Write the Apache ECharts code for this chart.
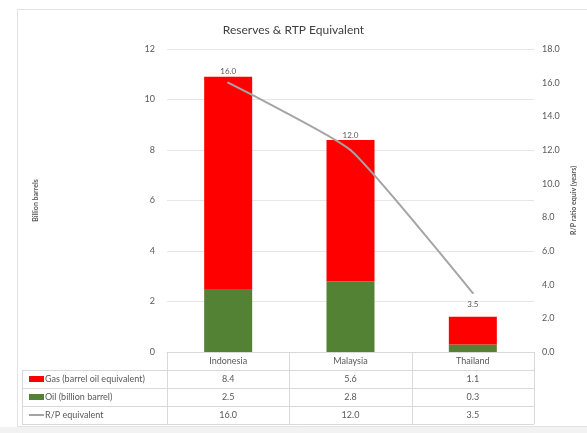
<!DOCTYPE html>
<html>
<head>
<meta charset="utf-8">
<script src="https://cdn.jsdelivr.net/npm/echarts@6/dist/echarts.min.js"></script>
<style>
  html, body { margin: 0; padding: 0; background: #ffffff; }
  #chart { width: 587px; height: 433px; }
</style>
</head>
<body>
<div id="chart"></div>
<script>
// Reserves by country (billion barrels) and reserves-to-production ratio (years)
const countries = ['Indonesia', 'Malaysia', 'Thailand'];
const gasBoe = [8.4, 5.6, 1.1];
const oilBbl = [2.5, 2.8, 0.3];
const rpYears = [16.0, 12.0, 3.5];
const leftTicks = [0, 2, 4, 6, 8, 10, 12];
const rightTicks = [0, 2, 4, 6, 8, 10, 12, 14, 16, 18];

const seriesNames = ['Gas (barrel oil equivalent)', 'Oil (billion barrel)', 'R/P equivalent'];
const tableRows = [gasBoe, oilBbl, rpYears];

const FONT = 'Lato';
const TXT = '#595959';
const GAS = '#ff0000';
const OIL = '#548235';
const LINE = '#a5a5a5';
const GRID_LINE = '#e6e6e6';
const TABLE_LINE = '#d9d9d9';

const chart = echarts.init(document.getElementById('chart'), null, { renderer: 'canvas' });

// per-point label placement for the R/P line
const rpLabelPos = ['top', 'top', 'bottom'];
const rpLabelGap = [6, 10, 6];

chart.setOption({
  animation: false,
  backgroundColor: 'transparent',
  textStyle: { fontFamily: FONT },
  title: {
    text: 'Reserves & RTP Equivalent',
    left: 'center',
    top: 19,
    textStyle: { fontFamily: FONT, fontSize: 12, fontWeight: 'normal', color: '#404040' }
  },
  grid: { left: 167, right: 53, top: 49, bottom: 81, containLabel: false },
  xAxis: {
    type: 'category',
    data: countries,
    axisLine: { show: true, lineStyle: { color: TABLE_LINE } },
    axisTick: { show: false },
    axisLabel: { color: TXT, fontSize: 9, fontFamily: FONT, margin: 5 }
  },
  yAxis: [
    {
      type: 'value', min: 0, max: leftTicks[leftTicks.length - 1], interval: 2,
      name: 'Billion barrels', nameLocation: 'middle', nameGap: 128, nameRotate: 90,
      nameTextStyle: { color: TXT, fontSize: 7, fontWeight: 'bold', fontFamily: FONT },
      axisLine: { show: false }, axisTick: { show: false },
      axisLabel: { color: TXT, fontSize: 9, fontFamily: FONT, margin: 12 },
      splitLine: { lineStyle: { color: GRID_LINE } }
    },
    {
      type: 'value', min: 0, max: rightTicks[rightTicks.length - 1], interval: 2,
      name: 'R/P ratio equiv (years)', nameLocation: 'middle', nameGap: 36, nameRotate: 90,
      nameTextStyle: { color: TXT, fontSize: 7, fontWeight: 'bold', fontFamily: FONT },
      axisLine: { show: false }, axisTick: { show: false },
      axisLabel: { color: TXT, fontSize: 9, fontFamily: FONT, margin: 8,
        formatter: v => v.toFixed(1) },
      splitLine: { show: false }
    }
  ],
  series: [
    {
      name: seriesNames[1], type: 'bar', stack: 'res', barWidth: 48,
      itemStyle: { color: OIL }, data: oilBbl
    },
    {
      name: seriesNames[0], type: 'bar', stack: 'res', barWidth: 48,
      itemStyle: { color: GAS }, data: gasBoe
    },
    {
      name: seriesNames[2], type: 'line', yAxisIndex: 1, smooth: 0.15,
      symbol: 'circle', symbolSize: 2, showSymbol: true, showAllSymbol: true,
      itemStyle: { color: LINE },
      lineStyle: { color: LINE, width: 2 },
      label: { show: true, color: TXT, fontSize: 8, fontFamily: FONT,
        formatter: p => Number(p.value).toFixed(1) },
      labelLayout: { hideOverlap: false },
      data: rpYears.map((v, i) => ({
        value: v,
        label: { position: rpLabelPos[i], distance: rpLabelGap[i] }
      }))
    }
  ]
});

// Data table under the plot, aligned with the category bands of the x axis
const centers = countries.map(c => chart.convertToPixel({ xAxisIndex: 0 }, c));
const band = centers[1] - centers[0];
const xL = centers[0] - band / 2;
const xR = centers[centers.length - 1] + band / 2;
const yAxis0 = chart.convertToPixel({ yAxisIndex: 0 }, 0);
const rowY = [yAxis0, yAxis0 + 18, yAxis0 + 36, yAxis0 + 54, yAxis0 + 72];
const tableLeft = 22;

const g = [];
const line = (x1, y1, x2, y2) => g.push({
  type: 'line', shape: { x1, y1, x2, y2 }, style: { stroke: TABLE_LINE, lineWidth: 1 }, silent: true
});

// page frame
g.push({ type: 'rect', shape: { x: 0, y: 427, width: 587, height: 6 }, style: { fill: '#f2f2f2' }, silent: true });
g.push({ type: 'rect', shape: { x: 17.5, y: 9.5, width: 600, height: 417 },
  style: { fill: 'none', stroke: '#e3e3e3', lineWidth: 1 }, silent: true });

// horizontal rules
for (let r = 1; r < rowY.length; r++) line(tableLeft, rowY[r] + 0.5, xR, rowY[r] + 0.5);
// vertical rules
line(tableLeft + 0.5, rowY[1], tableLeft + 0.5, rowY[4]);
for (let c = 0; c <= countries.length; c++) {
  const x = Math.round(xL + c * band) + 0.5;
  line(x, rowY[0], x, rowY[4]);
}

// legend keys and row values
for (let r = 0; r < tableRows.length; r++) {
  const yMid = (rowY[r + 1] + rowY[r + 2]) / 2;
  if (r < 2) {
    g.push({ type: 'rect', shape: { x: 29, y: yMid - 3, width: 15, height: 6 },
      style: { fill: r === 0 ? GAS : OIL }, silent: true });
  } else {
    g.push({ type: 'line', shape: { x1: 29, y1: yMid, x2: 44, y2: yMid },
      style: { stroke: LINE, lineWidth: 2 }, silent: true });
  }
  g.push({ type: 'text', x: 45, y: yMid, silent: true,
    style: { text: seriesNames[r], fill: TXT, fontSize: 9, fontFamily: FONT,
      textAlign: 'left', textVerticalAlign: 'middle' } });
  tableRows[r].forEach((v, i) => {
    g.push({ type: 'text', x: centers[i], y: yMid, silent: true,
      style: { text: v.toFixed(1), fill: TXT, fontSize: 9, fontFamily: FONT,
        textAlign: 'center', textVerticalAlign: 'middle' } });
  });
}

chart.setOption({ graphic: g });
</script>
</body>
</html>
